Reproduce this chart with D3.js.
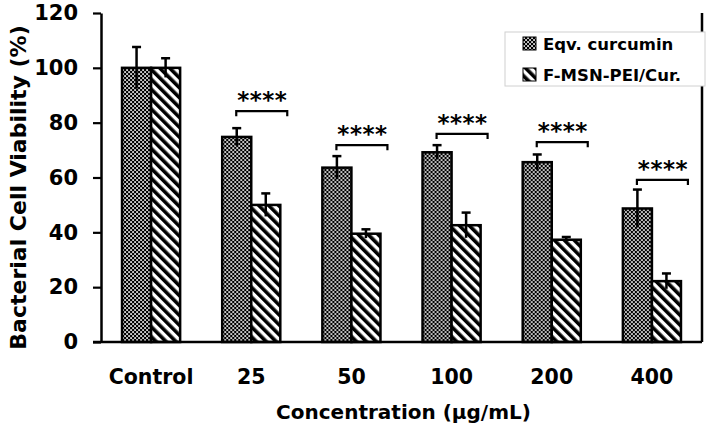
<!DOCTYPE html>
<html lang="en">
<head>
<meta charset="UTF-8">
<title>Bacterial Cell Viability</title>
<script src="https://cdnjs.cloudflare.com/ajax/libs/d3/7.8.5/d3.min.js"></script>
<style>
    body { margin: 0; background: #fff; }
    text { font-family: "DejaVu Sans", sans-serif; font-weight: bold; fill: #000; }
</style>
</head>
<body>
<div id="wrapper"></div>
<script>
// data
const categories = ["Control", "25", "50", "100", "200", "400"];
const seriesNames = ["Eqv. curcumin", "F-MSN-PEI/Cur."];
const curcumin = [100, 74.8, 63.6, 69.2, 65.6, 48.7];
const curcuminErr = [7.6, 3.2, 4.2, 2.6, 2.8, 6.9];
const fmsn = [100, 50, 39.5, 42.6, 37.3, 22.2];
const fmsnErr = [3.5, 4.2, 1.6, 4.6, 1.0, 2.8];
const bracketY = [null, 84.2, 71.8, 75.9, 72.9, 59.1];
const yTicks = [0, 20, 40, 60, 80, 100, 120];

const dims = { width: 709, height: 432, margin: { top: 13, right: 7, bottom: 90, left: 101 } };
dims.boundedWidth = dims.width - dims.margin.left - dims.margin.right;
dims.boundedHeight = dims.height - dims.margin.top - dims.margin.bottom;

const svg = d3.select("#wrapper").append("svg")
    .attr("width", dims.width)
    .attr("height", dims.height);

// fill patterns
const defs = svg.append("defs");
const checker = defs.append("pattern")
    .attr("id", "checker").attr("patternUnits", "userSpaceOnUse")
    .attr("width", 4).attr("height", 4);
checker.append("rect").attr("width", 4).attr("height", 4).attr("fill", "#000");
checker.append("rect").attr("x", 0.2).attr("y", 0.2).attr("width", 1.7).attr("height", 1.7).attr("fill", "#fff");
checker.append("rect").attr("x", 2.2).attr("y", 2.2).attr("width", 1.7).attr("height", 1.7).attr("fill", "#fff");

const stripes = defs.append("pattern")
    .attr("id", "stripes").attr("patternUnits", "userSpaceOnUse")
    .attr("width", 7).attr("height", 7)
    .attr("patternTransform", "rotate(-45)");
stripes.append("rect").attr("width", 7).attr("height", 7).attr("fill", "#fff");
stripes.append("rect").attr("width", 3.6).attr("height", 7).attr("fill", "#000");

const fills = ["url(#checker)", "url(#stripes)"];

const bounds = svg.append("g")
    .attr("transform", `translate(${dims.margin.left},${dims.margin.top})`);

const x = d3.scaleBand()
    .domain(categories)
    .range([0, dims.boundedWidth])
    .paddingInner(0.42).paddingOuter(0.21);
const x1 = d3.scaleBand()
    .domain([0, 1])
    .range([0, x.bandwidth()]);
const y = d3.scaleLinear()
    .domain([0, 120])
    .range([dims.boundedHeight, 0]);

const rows = categories.map((c, i) => ({
    cat: c,
    vals: [
        { s: 0, v: curcumin[i], e: curcuminErr[i] },
        { s: 1, v: fmsn[i], e: fmsnErr[i] }
    ],
    br: bracketY[i]
}));

// bars
const groups = bounds.selectAll(".grp")
    .data(rows).enter().append("g")
    .attr("transform", d => `translate(${x(d.cat)},0)`);

groups.selectAll("rect")
    .data(d => d.vals).enter().append("rect")
    .attr("x", d => x1(d.s))
    .attr("y", d => y(d.v))
    .attr("width", x1.bandwidth())
    .attr("height", d => y(0) - y(d.v))
    .attr("fill", d => fills[d.s])
    .attr("stroke", "#000")
    .attr("stroke-width", 2.5);

// error bars
const err = groups.selectAll(".err")
    .data(d => d.vals).enter().append("g");
err.append("line")
    .attr("x1", d => x1(d.s) + x1.bandwidth() / 2)
    .attr("x2", d => x1(d.s) + x1.bandwidth() / 2)
    .attr("y1", d => y(d.v - d.e))
    .attr("y2", d => y(d.v + d.e))
    .attr("stroke", "#000").attr("stroke-width", 2.5);
err.append("line")
    .attr("x1", d => x1(d.s) + x1.bandwidth() / 2 - 4.5)
    .attr("x2", d => x1(d.s) + x1.bandwidth() / 2 + 4.5)
    .attr("y1", d => y(d.v + d.e))
    .attr("y2", d => y(d.v + d.e))
    .attr("stroke", "#000").attr("stroke-width", 2.5);

// significance brackets
const sig = groups.filter(d => d.br !== null);
const bw = x.bandwidth();
sig.append("path")
    .attr("d", d => {
        const l = bw / 2 - 15, r = bw / 2 + 36, yy = y(d.br);
        return `M${l},${yy + 5}V${yy}H${r}V${yy + 5}`;
    })
    .attr("fill", "none").attr("stroke", "#000").attr("stroke-width", 2.2);
sig.append("text")
    .attr("x", bw / 2 + 11)
    .attr("y", d => y(d.br) - 3)
    .attr("text-anchor", "middle")
    .style("font-size", "23px")
    .style("letter-spacing", "0.5px")
    .text("****");

// y axis
const yAxis = bounds.append("g")
    .call(d3.axisLeft(y).tickValues(yTicks).tickSize(8).tickSizeOuter(0).tickPadding(15));
yAxis.select(".domain").attr("stroke-width", 2.5);
yAxis.selectAll(".tick line").attr("stroke-width", 2.2);
yAxis.selectAll("text").style("font-size", "21px").style("font-family", "'DejaVu Sans', sans-serif");

// x axis
const xAxis = bounds.append("g")
    .attr("transform", `translate(0,${dims.boundedHeight})`)
    .call(d3.axisBottom(x).tickSize(0).tickSizeOuter(0).tickPadding(27));
xAxis.select(".domain").remove();
xAxis.selectAll("text").style("font-size", "20.5px").style("font-family", "'DejaVu Sans', sans-serif");
bounds.append("line")
    .attr("x1", -8).attr("x2", dims.boundedWidth)
    .attr("y1", y(0)).attr("y2", y(0))
    .attr("stroke", "#000").attr("stroke-width", 2.5);
bounds.append("line")
    .attr("x1", dims.boundedWidth).attr("x2", dims.boundedWidth)
    .attr("y1", y(120)).attr("y2", y(0))
    .attr("stroke", "#000").attr("stroke-width", 2.5);

// axis titles
svg.append("text")
    .attr("transform", `translate(18,${dims.margin.top + dims.boundedHeight / 2 + 10}) rotate(-90)`)
    .attr("text-anchor", "middle")
    .attr("dominant-baseline", "central")
    .style("font-size", "22px")
    .text("Bacterial Cell Viability (%)");
svg.append("text")
    .attr("x", dims.margin.left + dims.boundedWidth / 2 + 2)
    .attr("y", 419)
    .attr("text-anchor", "middle")
    .style("font-size", "20px")
    .text("Concentration (μg/mL)");

// legend
const legend = svg.append("g").attr("transform", "translate(505,32)");
legend.append("rect")
    .attr("width", 200).attr("height", 54)
    .attr("fill", "#fff").attr("stroke", "#d0d0d0").attr("stroke-width", 1);
const items = legend.selectAll(".item")
    .data(seriesNames).enter().append("g")
    .attr("transform", (d, i) => `translate(18,${5 + i * 31})`);
items.append("rect")
    .attr("width", 13).attr("height", 13)
    .attr("fill", (d, i) => fills[i])
    .attr("stroke", "#000").attr("stroke-width", 1);
items.append("text")
    .attr("x", 20).attr("y", 7)
    .attr("dominant-baseline", "central")
    .style("font-size", "16.5px")
    .text(d => d);
</script>
</body>
</html>
